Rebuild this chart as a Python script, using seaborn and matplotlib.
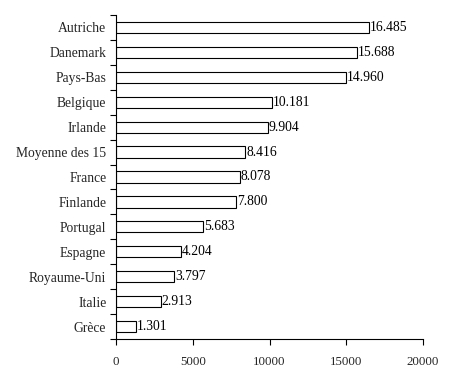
import matplotlib
matplotlib.use("Agg")
import matplotlib.pyplot as plt
import seaborn as sns
import pandas as pd
import numpy as np

countries = ["Autriche", "Danemark", "Pays-Bas", "Belgique", "Irlande",
             "Moyenne des 15", "France", "Finlande", "Portugal", "Espagne",
             "Royaume-Uni", "Italie", "Grèce"]
values = [16485, 15688, 14960, 10181, 9904, 8416, 8078, 7800, 5683, 4204,
          3797, 2913, 1301]
value_labels = ["16.485", "15.688", "14.960", "10.181", "9.904", "8.416",
                "8.078", "7.800", "5.683", "4.204", "3.797", "2.913", "1.301"]
xticks = [0, 5000, 10000, 15000, 20000]

sns.set_style("white")
plt.rcParams['font.family'] = ['Liberation Serif', 'DejaVu Serif']

df = pd.DataFrame({"pays": countries, "valeur": values})

fig = plt.figure(figsize=(4.55, 3.85), dpi=100)
ax = fig.add_axes([116/455, 1-339/385, (423-116)/455, (339-15)/385])

sns.barplot(data=df, y="pays", x="valeur", orient="h", ax=ax,
            color="white", edgecolor="black", linewidth=0.8, width=0.45,
            order=countries)

for i, (v, lab) in enumerate(zip(values, value_labels)):
    ax.text(v + 60, i, lab, va="center", ha="left", fontsize=9.8, color="black")

ax.set_xlim(0, 20000)
ax.set_ylim(len(countries) - 0.5, -0.5)
ax.yaxis.set_ticks_position("left")
ax.xaxis.set_ticks_position("bottom")
ax.set_xticks(xticks)
ax.set_xticklabels([str(t) for t in xticks], fontsize=9.3)
ax.set_yticks(range(len(countries)))
ax.set_yticklabels(countries, fontsize=9.8)
ax.tick_params(axis="y", which="major", length=0, pad=7)
ax.set_yticks(np.arange(-0.5, len(countries), 1.0), minor=True)
ax.tick_params(axis="y", which="minor", length=4, width=0.8, color="black",
               direction="out", left=True, right=False)
ax.tick_params(axis="x", which="major", length=4, width=0.8, color="black",
               direction="out", bottom=True, top=False, pad=8)
ax.set_xlabel("")
ax.set_ylabel("")
for s in ["top", "right"]:
    ax.spines[s].set_visible(False)
for s in ["left", "bottom"]:
    ax.spines[s].set_color("black")
    ax.spines[s].set_linewidth(0.8)

fig.savefig("out.png", dpi=100, facecolor="white")
